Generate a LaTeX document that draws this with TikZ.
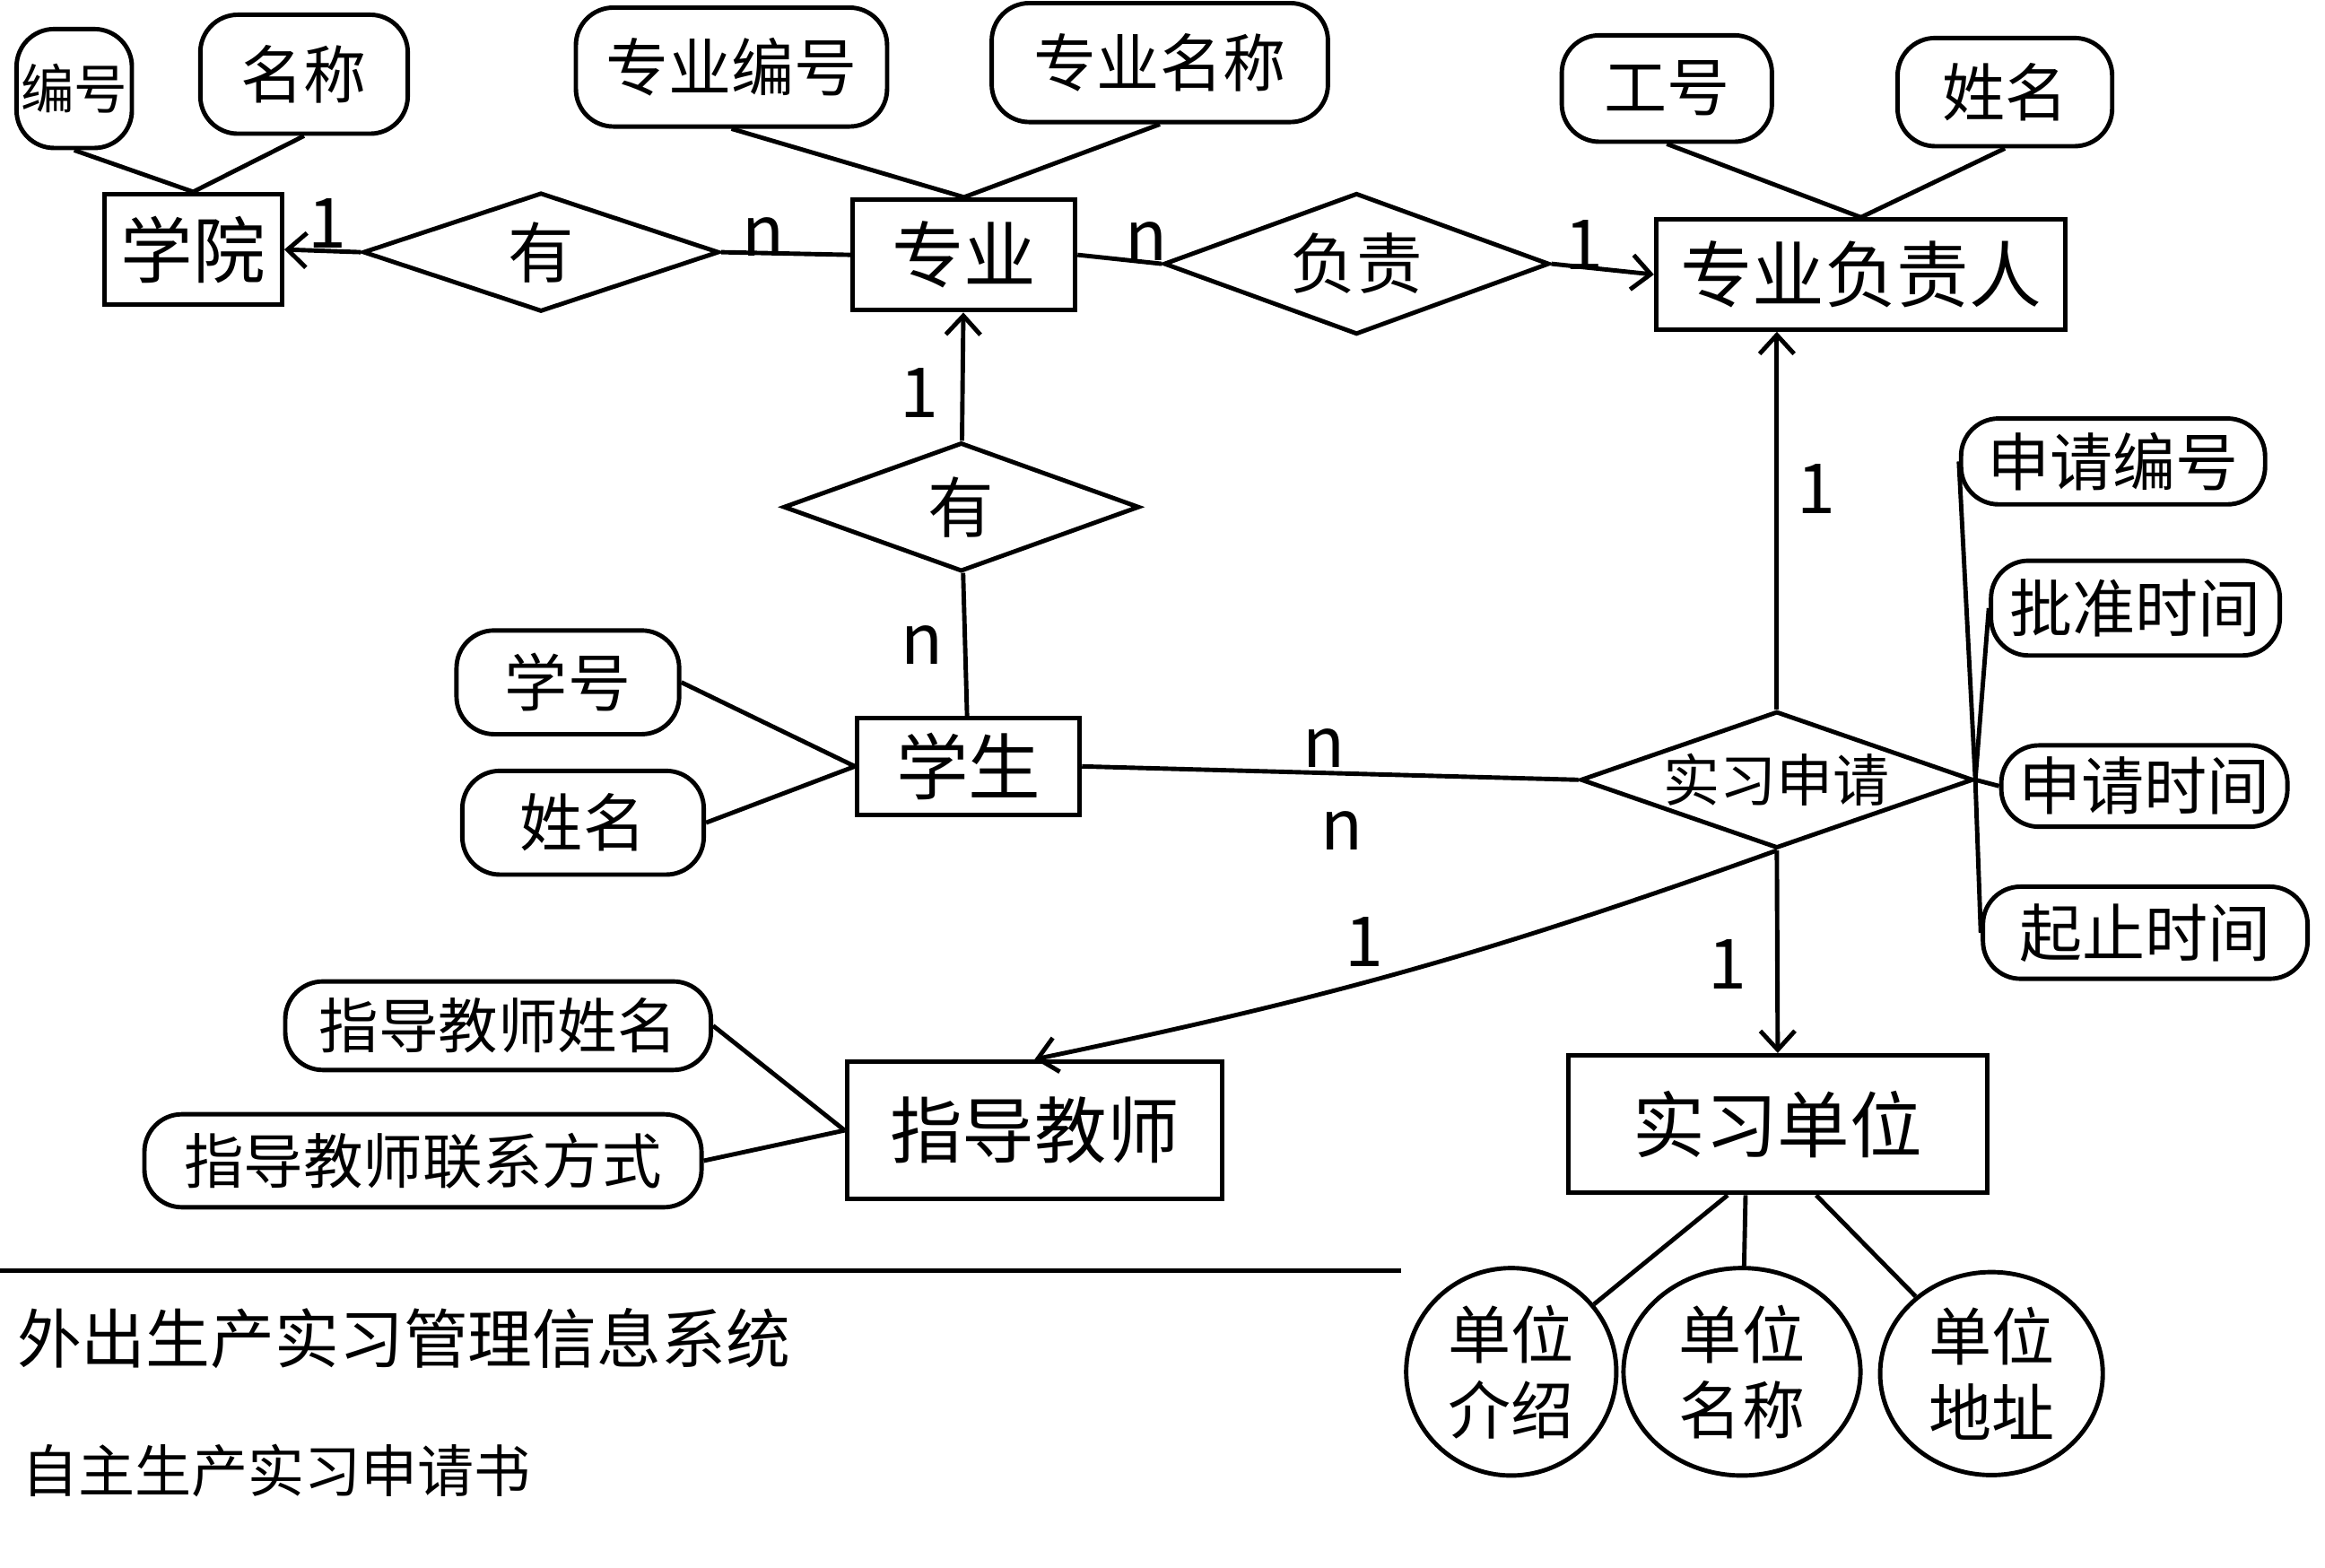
\documentclass[tikz,border=0pt]{standalone}
\usepackage{fontspec}
\setmainfont{Noto Sans CJK SC}
\usetikzlibrary{shapes.geometric, arrows.meta}

\begin{document}
\begin{tikzpicture}[line width=1.4pt, >={Straight Barb[length=6pt,width=11pt]},
  entity/.style={draw, rectangle, inner sep=0pt, font=\fontsize{23}{27}\selectfont},
  rel/.style={draw, diamond, aspect=2.8, inner sep=0pt, font=\fontsize{21}{25}\selectfont},
  attr/.style={draw, rectangle, rounded corners=0.42cm, inner sep=0pt, font=\fontsize{20}{24}\selectfont},
  attrb/.style={draw, ellipse, inner sep=0pt, align=center, font=\fontsize{20}{24}\selectfont},
  card/.style={font=\fontsize{22}{26}\selectfont}]
\useasboundingbox (0,0) rectangle (26,-17.53);
\node (xy)[entity, minimum width=1.99cm, minimum height=1.24cm] at (2.16,-2.79) {学院};
\node (zy)[entity, minimum width=2.49cm, minimum height=1.24cm] at (10.78,-2.85) {专业};
\node (fzr)[entity, minimum width=4.58cm, minimum height=1.23cm] at (20.81,-3.07) {专业负责人};
\node (xs)[entity, minimum width=2.49cm, minimum height=1.08cm] at (10.83,-8.57) {学生};
\node (js)[entity, minimum width=4.20cm, minimum height=1.54cm] at (11.57,-12.64) {指导教师};
\node (dw)[entity, minimum width=4.68cm, minimum height=1.54cm] at (19.88,-12.57) {实习单位};
\node (you1)[rel, minimum width=3.98cm, minimum height=1.33cm] at (6.05,-2.82) {有};
\node (fz)[rel, minimum width=4.31cm, minimum height=1.58cm] at (15.17,-2.95) {负责};
\node (you2)[rel, minimum width=3.98cm, minimum height=1.44cm] at (10.75,-5.67) {有};
\node (sq)[rel, minimum width=4.39cm, minimum height=1.53cm, font=\fontsize{18}{21}\selectfont] at (19.87,-8.72) {实习申请};
\node (bh)[attr, minimum width=1.29cm, minimum height=1.33cm, font=\fontsize{17}{20}\selectfont] at (0.83,-0.99) {编号};
\node (mc)[attr, minimum width=2.32cm, minimum height=1.33cm] at (3.40,-0.83) {名称};
\node (zybh)[attr, minimum width=3.48cm, minimum height=1.33cm] at (8.18,-0.75) {专业编号};
\node (zymc)[attr, minimum width=3.76cm, minimum height=1.33cm] at (12.97,-0.70) {专业名称};
\node (gh)[attr, minimum width=2.35cm, minimum height=1.19cm] at (18.64,-0.99) {工号};
\node (xm1)[attr, minimum width=2.40cm, minimum height=1.21cm] at (22.42,-1.03) {姓名};
\node (xh)[attr, minimum width=2.49cm, minimum height=1.16cm] at (6.35,-7.63) {学号};
\node (xm2)[attr, minimum width=2.70cm, minimum height=1.16cm] at (6.52,-9.20) {姓名};
\node (sqbh)[attr, minimum width=3.40cm, minimum height=0.96cm] at (23.63,-5.16) {申请编号};
\node (pzsj)[attr, minimum width=3.23cm, minimum height=1.06cm] at (23.88,-6.80) {批准时间};
\node (sqsj)[attr, minimum width=3.20cm, minimum height=0.91cm] at (23.98,-8.79) {申请时间};
\node (qzsj)[attr, minimum width=3.63cm, minimum height=1.03cm] at (23.99,-10.43) {起止时间};
\node (jsxm)[attr, minimum width=4.76cm, minimum height=0.99cm, font=\fontsize{19}{23}\selectfont] at (5.57,-11.47) {指导教师姓名};
\node (jslx)[attr, minimum width=6.23cm, minimum height=1.04cm, font=\fontsize{19}{23}\selectfont] at (4.73,-12.98) {指导教师联系方式};
\node (dwjs)[attrb, minimum width=2.35cm, minimum height=2.32cm] at (16.90,-15.34) {单位\\介绍};
\node (dwmc)[attrb, minimum width=2.65cm, minimum height=2.32cm] at (19.48,-15.34) {单位\\名称};
\node (dwdz)[attrb, minimum width=2.49cm, minimum height=2.27cm] at (22.27,-15.36) {单位\\地址};
\node (c1)[card] at (3.66,-2.50) {1};
\node (c2)[card] at (8.54,-2.65) {n};
\node (c3)[card] at (12.82,-2.70) {n};
\node (c4)[card] at (17.71,-2.74) {1};
\node (c5)[card] at (10.28,-4.39) {1};
\node (c6)[card] at (10.31,-7.21) {n};
\node (c7)[card] at (14.81,-8.37) {n};
\node (c8)[card] at (15.01,-9.29) {n};
\node (c9)[card] at (15.26,-10.53) {1};
\node (c10)[card] at (20.31,-5.47) {1};
\node (c11)[card] at (19.32,-10.78) {1};
\node (t1)[anchor=west, font=\fontsize{20.5}{24}\selectfont] at (0.05,-14.97) {外出生产实习管理信息系统};
\node (t2)[anchor=west, font=\fontsize{18}{21}\selectfont] at (0.10,-16.45) {自主生产实习申请书};
\coordinate (l1) at (0,-14.21);
\coordinate (l2) at (15.67,-14.21);
\draw (l1) -- (l2);
\draw (bh.south) -- (xy.north);
\draw (mc.south) -- (xy.north);
\draw (zybh.south) -- (zy.north);
\draw (zymc.south) -- (zy.north);
\draw (gh.south) -- (fzr.north);
\draw (xm1.south) -- (fzr.north);
\draw[->] (you1.west) -- (xy.east);
\draw (you1.east) -- (zy.west);
\draw (zy.east) -- (fz.west);
\draw[->] (fz.east) -- (fzr.west);
\draw[->] (you2) -- (zy);
\draw (you2) -- (xs);
\draw (xh.east) -- (xs.west);
\draw (xm2.east) -- (xs.west);
\draw (xs.east) -- (sq.west);
\draw[->] (sq.north) -- (sq.north |- fzr.south);
\draw[->] (sq.south) -- (dw.north);
\draw[->] (sq.south) to[bend left=4] (js.north);
\draw (sq.east) -- (sqbh.west);
\draw (sq.east) -- (pzsj.west);
\draw (sq.east) -- (sqsj.west);
\draw (sq.east) -- (qzsj.west);
\draw (jsxm.east) -- (js.west);
\draw (jslx.east) -- (js.west);
\draw ([xshift=-0.56cm]dw.south) -- (dwjs);
\draw ([xshift=-0.36cm]dw.south) -- (dwmc);
\draw ([xshift=0.43cm]dw.south) -- (dwdz);
\end{tikzpicture}
\end{document}
